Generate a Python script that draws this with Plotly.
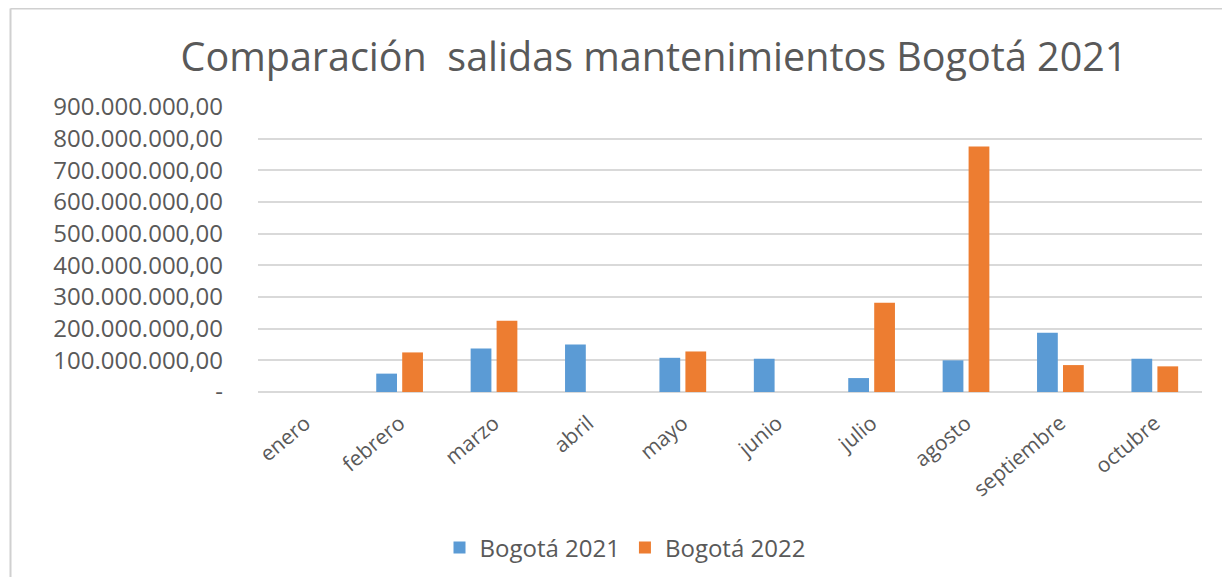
import plotly.graph_objects as go

meses = ["enero", "febrero", "marzo", "abril", "mayo", "junio", "julio",
         "agosto", "septiembre", "octubre"]
bogota_2021 = [0, 58_000_000, 137_000_000, 150_000_000, 108_000_000, 105_000_000,
               44_000_000, 100_000_000, 187_000_000, 105_000_000]
bogota_2022 = [0, 125_000_000, 225_000_000, 0, 128_000_000, 0,
               282_000_000, 775_000_000, 85_000_000, 81_000_000]
tick_vals = [0, 100_000_000, 200_000_000, 300_000_000, 400_000_000, 500_000_000,
             600_000_000, 700_000_000, 800_000_000, 900_000_000]
tick_text = ["-", "100.000.000,00", "200.000.000,00", "300.000.000,00",
             "400.000.000,00", "500.000.000,00", "600.000.000,00",
             "700.000.000,00", "800.000.000,00", "900.000.000,00"]

OFF = 8  # page body margin
W, H = 1230 - OFF, 577 - OFF
# plot area in window pixels
L, R, T, B = 258, 1202, 107, 392
pw, ph = R - L, B - T

def px_x(x):
    return (x - L) / pw

def px_y(y):
    return (B - y) / ph

FONT = "Open Sans"
TXT = "#595959"

fig = go.Figure()
fig.add_trace(go.Bar(name="Bogotá 2021", x=meses, y=bogota_2021,
                     marker=dict(color="#5B9BD5", line=dict(width=0))))
fig.add_trace(go.Bar(name="Bogotá 2022", x=meses, y=bogota_2022,
                     marker=dict(color="#ED7D31", line=dict(width=0))))

fig.update_layout(
    width=W, height=H,
    margin=dict(l=L - OFF, r=W - (R - OFF), t=T - OFF, b=H - (B - OFF), autoexpand=False),
    paper_bgcolor="white", plot_bgcolor="white",
    barmode="group", bargap=0.45, bargroupgap=0.2,
    font=dict(family=FONT, color=TXT),
    title=dict(text="Comparación\u00a0 salidas mantenimientos Bogotá 2021",
               x=px_x(654), xref="paper", xanchor="center",
               y=1 - (57 - OFF) / H, yref="container", yanchor="middle",
               font=dict(family=FONT, size=39.5, color=TXT)),
    showlegend=True,
    legend=dict(orientation="h", x=px_x(625), xanchor="center",
                y=px_y(548), yanchor="middle",
                font=dict(family=FONT, size=24, color=TXT),
                itemwidth=30, traceorder="normal"),
    xaxis=dict(tickangle=-40, tickfont=dict(family=FONT, size=21, color=TXT),
               showgrid=False, showline=False, ticks="", fixedrange=True,
               ticklabelstandoff=14),
    yaxis=dict(range=[0, 900_000_000], tickvals=tick_vals, ticktext=tick_text,
               tickfont=dict(family=FONT, size=24, color=TXT),
               showgrid=True, gridcolor="#D9D9D9", gridwidth=1.5,
               zeroline=True, zerolinecolor="#D9D9D9", zerolinewidth=1.5,
               showline=False, ticks="", ticklabelstandoff=34),
    shapes=[
        dict(type="line", xref="paper", yref="paper",
             x0=px_x(10.5), x1=px_x(1240), y0=px_y(8.5), y1=px_y(8.5),
             line=dict(color="#D0D0D0", width=2)),
        dict(type="line", xref="paper", yref="paper",
             x0=px_x(10.5), x1=px_x(10.5), y0=px_y(8.5), y1=px_y(590),
             line=dict(color="#D0D0D0", width=2)),
    ],
)

fig.write_html("out.html")
